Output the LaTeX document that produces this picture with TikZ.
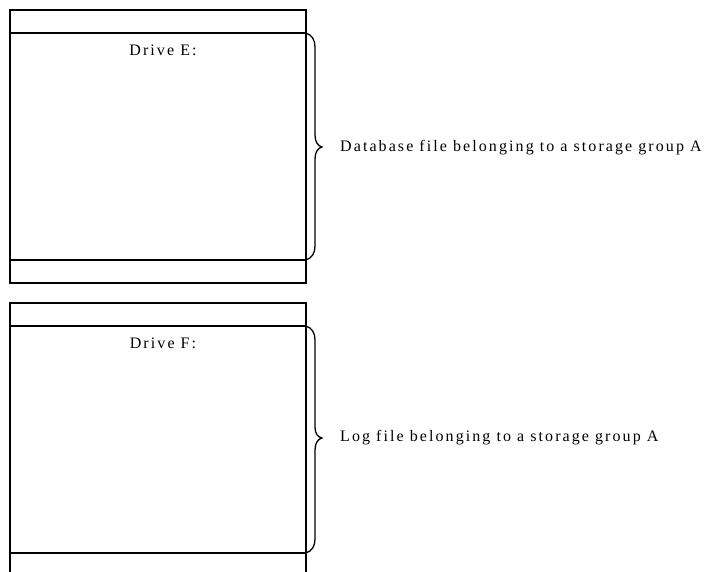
\documentclass[tikz,border=0pt]{standalone}
\usepackage{fontspec}
\setmainfont{Liberation Serif}
\begin{document}
\begin{tikzpicture}[x=1pt,y=-1pt,
  box/.style={draw=black,line width=1.4pt},
  br/.style={draw=black,line width=1.3pt},
  lbl/.style={anchor=west,inner sep=0pt,font=\fontsize{16}{18}\selectfont\addfontfeature{LetterSpace=13}},
  ttl/.style={inner sep=0pt,font=\fontsize{16}{18}\selectfont\addfontfeature{LetterSpace=13}}]
\useasboundingbox (0,0) rectangle (711,572);
\begin{scope}
\clip (0,0) rectangle (711,572);
% drive E
\draw[box] (10,10) rectangle (306,283);
\draw[box] (10,33) -- (306,33);
\draw[box] (10,260) -- (306,260);
% drive F
\draw[box] (10,303) rectangle (306,590);
\draw[box] (10,326) -- (306,326);
\draw[box] (10,553) -- (306,553);
\end{scope}
\node[ttl] (e) at (163,50) {Drive E:};
\node[ttl] (f) at (163,343) {Drive F:};
% braces
\draw[br] (306,33) .. controls (312,35) and (315,40) .. (315,47) -- (315,135)
  .. controls (315,142) and (318,146) .. (322,147)
  .. controls (318,148) and (315,152) .. (315,159) -- (315,246)
  .. controls (315,253) and (312,258) .. (306,260);
\draw[br] (306,326) .. controls (312,328) and (315,333) .. (315,340) -- (315,427)
  .. controls (315,434) and (318,437) .. (322,438)
  .. controls (318,439) and (315,443) .. (315,450) -- (315,539)
  .. controls (315,546) and (312,551) .. (306,553);
\node[lbl] (a) at (340,148) {Database file belonging to a storage group A};
\node[lbl] (b) at (340,438) {Log file belonging to a storage group A};
\end{tikzpicture}
\end{document}
